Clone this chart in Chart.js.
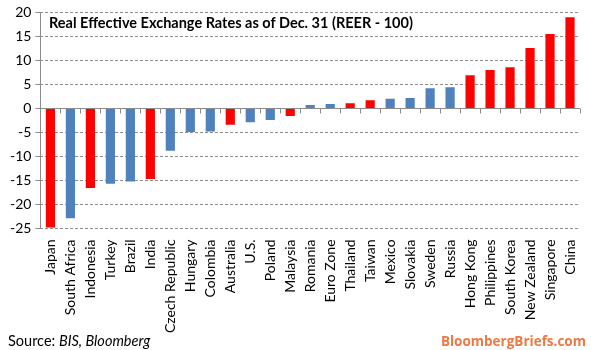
<!DOCTYPE html>
<html>
<head>
<meta charset="utf-8">
<script src="https://cdn.jsdelivr.net/npm/chart.js@4/dist/chart.umd.min.js"></script>
<style>
  html, body { margin: 0; padding: 0; background: #fff; }
  #wrap { position: relative; width: 591px; height: 350px; }
  #title { position: absolute; left: 49px; top: 14px; font: bold 14.5px Lato, "Open Sans", sans-serif; color: #000; }
  #source { position: absolute; left: 8px; top: 332px; font: 14.5px Lato, "Open Sans", sans-serif; color: #000; }
  #brand { position: absolute; right: 5px; top: 332px; font: bold 13.5px "Open Sans", Lato, sans-serif; color: #EC7842; }
</style>
</head>
<body>
<div id="wrap">
  <canvas id="myChart" width="591" height="350"></canvas>
  <div id="title">Real Effective Exchange Rates as of Dec. 31 (REER - 100)</div>
  <div id="source">Source: <i>BIS, Bloomberg</i></div>
  <div id="brand">BloombergBriefs.com</div>
</div>
<script>
const countries = [
  "Japan", "South Africa", "Indonesia", "Turkey", "Brazil", "India",
  "Czech Republic", "Hungary", "Colombia", "Australia", "U.S.", "Poland",
  "Malaysia", "Romania", "Euro Zone", "Thailand", "Taiwan", "Mexico",
  "Slovakia", "Sweden", "Russia", "Hong Kong", "Philippines", "South Korea",
  "New Zealand", "Singapore", "China"
];
const reerValues = [
  -24.8, -22.9, -16.6, -15.7, -15.2, -14.7,
  -8.8, -4.9, -4.8, -3.4, -2.9, -2.4,
  -1.6, 0.7, 0.9, 1.1, 1.7, 2.0,
  2.15, 4.2, 4.4, 6.9, 8.0, 8.6,
  12.6, 15.5, 19.0
];
// "r" = red bar, "b" = blue bar
const barGroups = [
  "r", "b", "r", "b", "b", "r",
  "b", "b", "b", "r", "b", "b",
  "r", "b", "b", "r", "r", "b",
  "b", "b", "b", "r", "r", "r",
  "r", "r", "r"
];
const yTicks = [-25, -20, -15, -10, -5, 0, 5, 10, 15, 20];

const RED = "#FF0000";
const BLUE = "#4F81BD";
const LINE = "#8c8c8c";

// zero line with small tick marks between categories, plus solid y axis
const zeroAxis = {
  id: "zeroAxis",
  afterDatasetsDraw(chart) {
    const { ctx, chartArea, scales } = chart;
    const y0 = Math.round(scales.y.getPixelForValue(0)) + 0.5;
    const xl = Math.round(chartArea.left) + 0.5;
    ctx.save();
    ctx.strokeStyle = LINE;
    ctx.lineWidth = 1;
    ctx.beginPath();
    ctx.moveTo(xl, chartArea.top);
    ctx.lineTo(xl, chartArea.bottom);
    ctx.moveTo(chartArea.left, y0);
    ctx.lineTo(chartArea.right, y0);
    const n = countries.length;
    for (let i = 0; i <= n; i++) {
      const x = Math.round(chartArea.left + (chartArea.right - chartArea.left) * i / n) + 0.5;
      ctx.moveTo(x, y0);
      ctx.lineTo(x, y0 + 5);
    }
    ctx.stroke();
    ctx.restore();
  }
};

new Chart(document.getElementById("myChart"), {
  type: "bar",
  data: {
    labels: countries,
    datasets: [{
      data: reerValues,
      backgroundColor: barGroups.map((g) => (g === "r" ? RED : BLUE)),
      borderWidth: 0,
      barPercentage: 0.46,
      categoryPercentage: 1.0
    }]
  },
  options: {
    responsive: false,
    animation: false,
    layout: { padding: { top: -2, right: 11, bottom: 14, left: 6 } },
    plugins: {
      legend: { display: false },
      tooltip: { enabled: false },
      title: { display: false }
    },
    scales: {
      x: {
        grid: { display: false },
        border: { display: false },
        ticks: {
          color: "#000",
          font: { family: "Lato, 'Open Sans', sans-serif", size: 14 },
          minRotation: 90,
          maxRotation: 90,
          autoSkip: false,
          padding: 3
        }
      },
      y: {
        min: -25,
        max: 20,
        afterBuildTicks(axis) {
          axis.ticks = yTicks.map((v) => ({ value: v }));
        },
        grid: {
          color: LINE,
          tickLength: 5,
          drawTicks: true
        },
        border: { display: false, dash: [3, 2] },
        ticks: {
          color: "#000",
          font: { family: "Lato, 'Open Sans', sans-serif", size: 14 },
          padding: 4
        }
      }
    }
  },
  plugins: [zeroAxis]
});
</script>
</body>
</html>
